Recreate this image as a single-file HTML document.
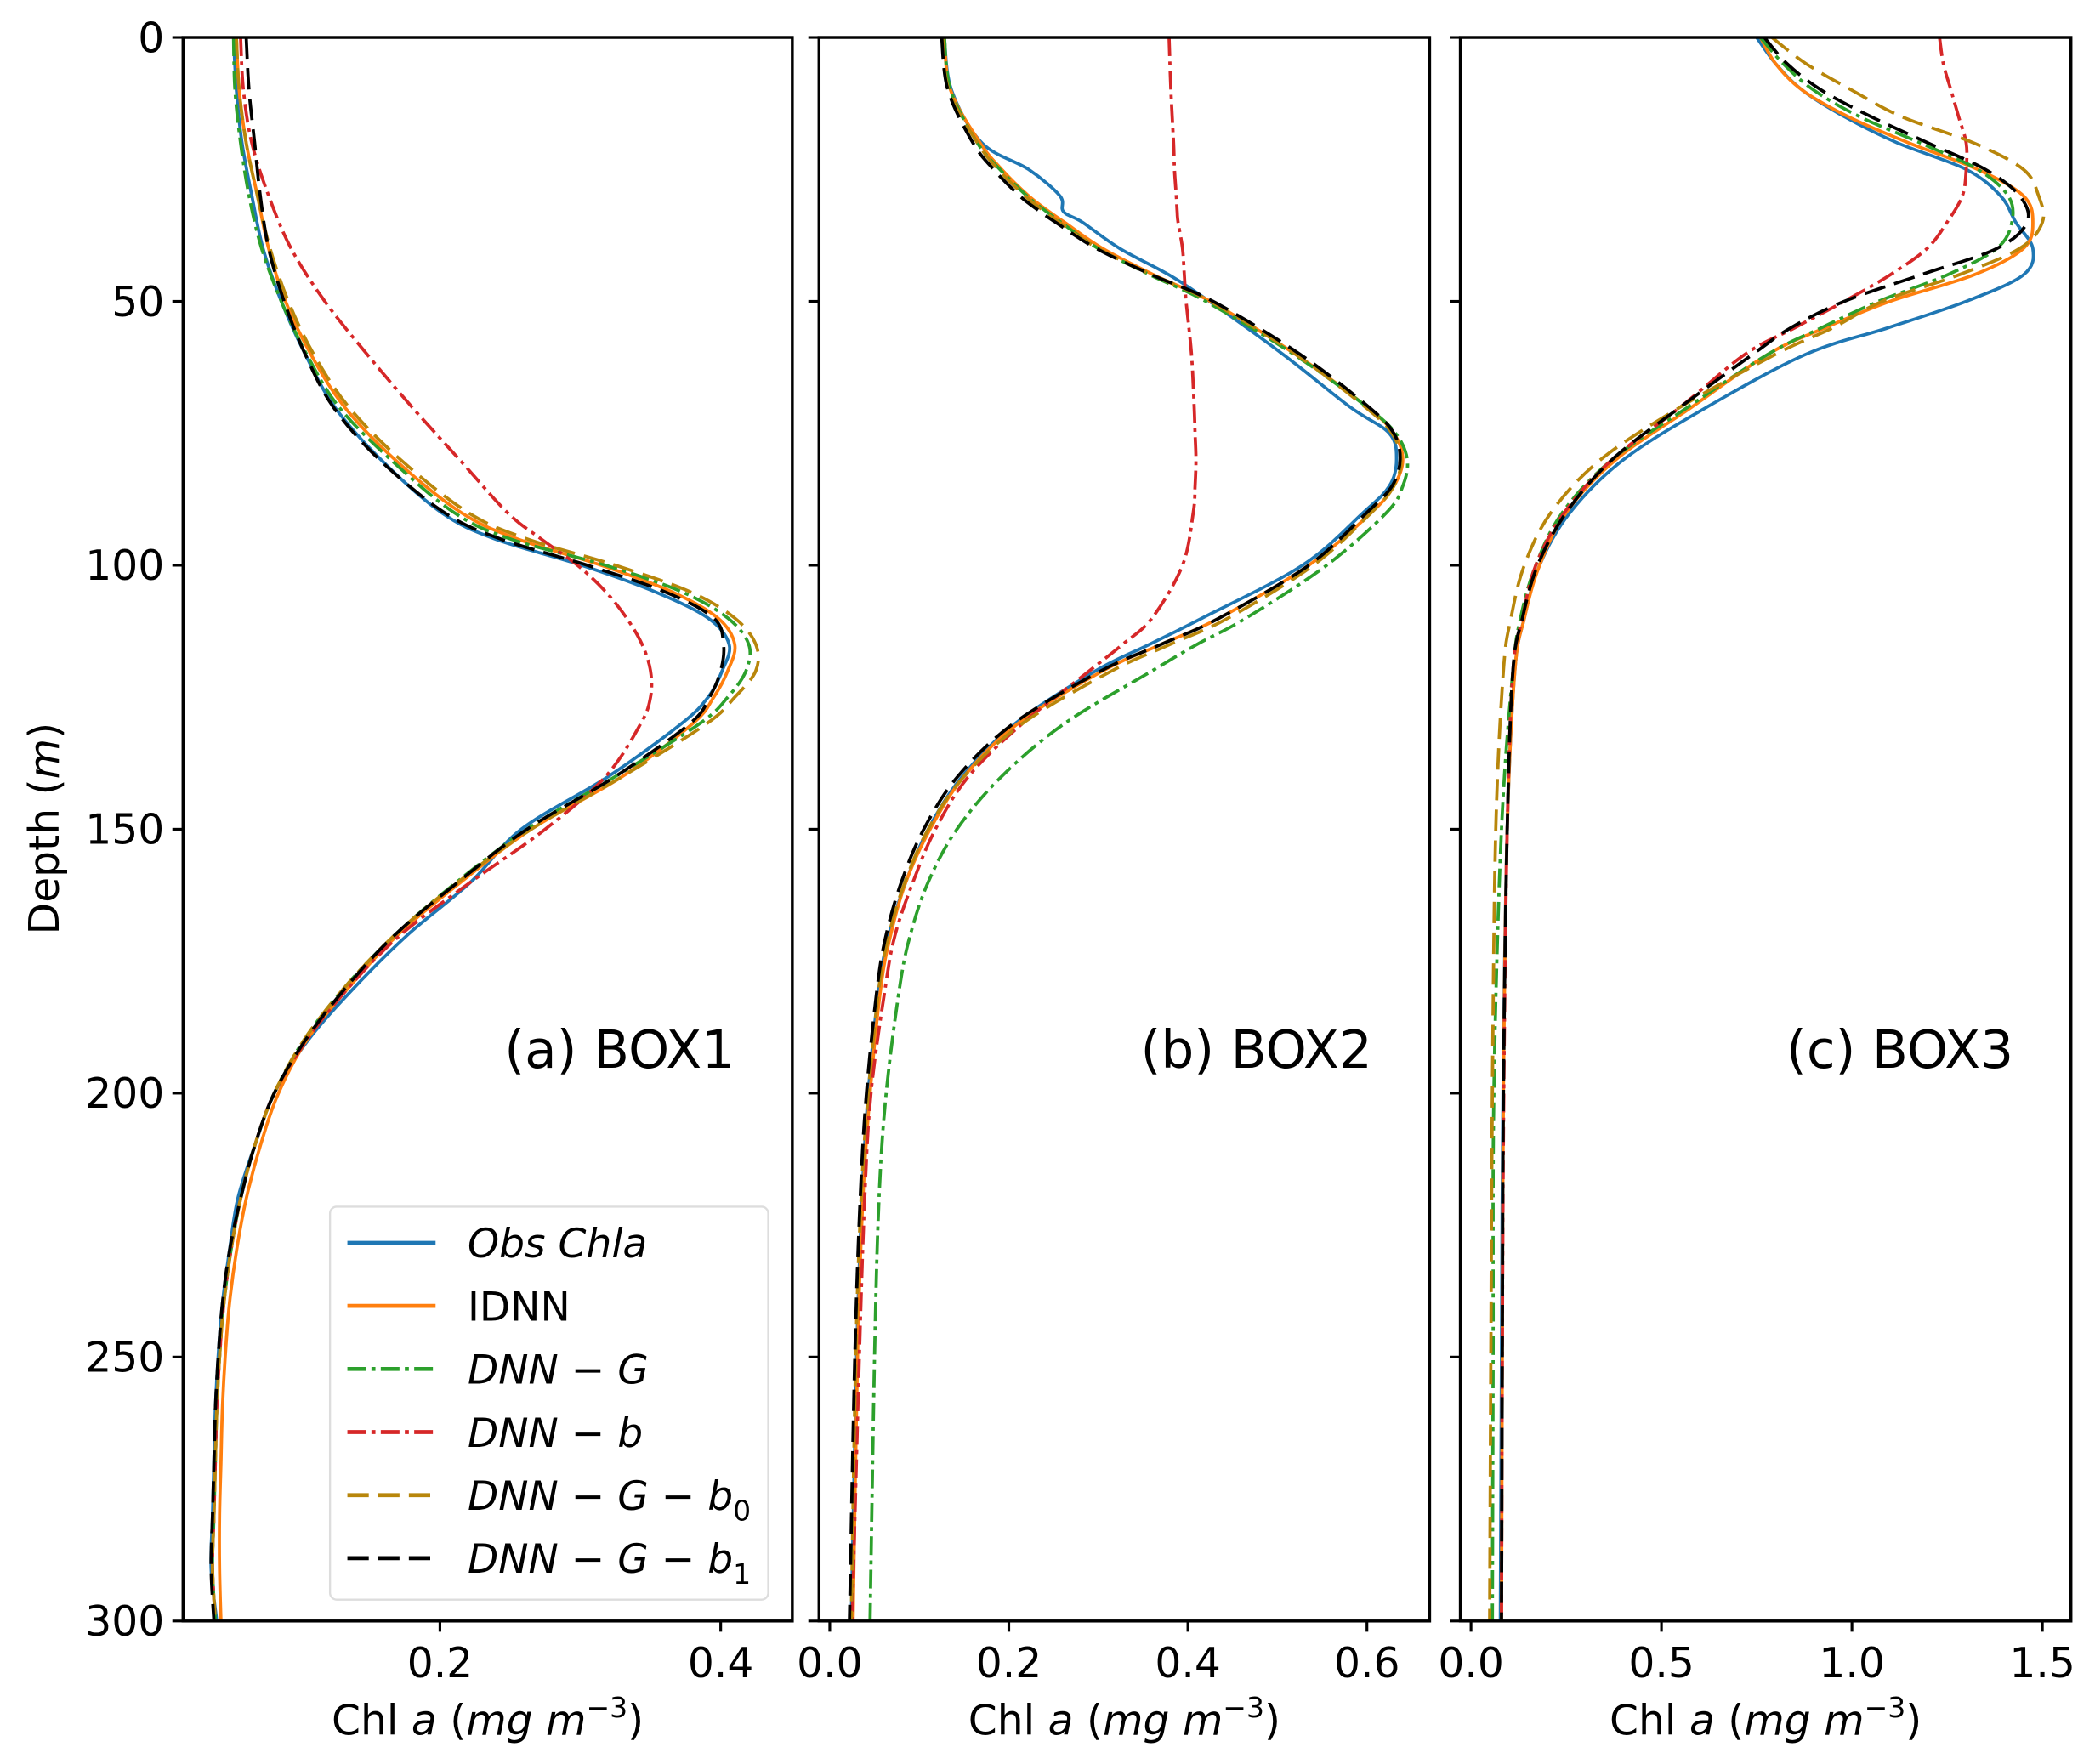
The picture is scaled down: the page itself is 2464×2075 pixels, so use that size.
<!DOCTYPE html>
<html><head><meta charset="utf-8">
<style>
html,body{margin:0;padding:0;background:#fff;}
svg{display:block;}
text{font-family:"DejaVu Sans","Liberation Sans",sans-serif;fill:#000;}
</style></head>
<body>
<svg id="chart" xmlns="http://www.w3.org/2000/svg" width="2464" height="2075" viewBox="0 0 1568 1320" preserveAspectRatio="none">
<rect x="0" y="0" width="1568" height="1320" fill="#fff"/>
</svg>
<script>
// ---------- data ----------
const depths1 = [0,10,20,30,40,50,60,70,80,90,95,100,105,110,115,120,125,130,140,150,160,170,180,190,200,210,220,230,240,250,260,270,280,290,300];
const obs1    = [.053,.055,.059,.066,.074,.087,.104,.125,.158,.201,.239,.301,.353,.391,.406,.401,.391,.372,.320,.258,.222,.177,.139,.106,.082,.068,.056,.050,.045,.042,.040,.039,.038,.037,.041];
const idnn1   = [.055,.057,.062,.070,.078,.090,.108,.132,.168,.215,.255,.315,.365,.398,.410,.405,.395,.380,.330,.265,.215,.170,.135,.105,.085,.072,.062,.055,.050,.047,.045,.044,.043,.043,.044];
const dnnG1   = [.053,.054,.058,.064,.073,.087,.105,.128,.165,.210,.250,.318,.372,.405,.420,.418,.405,.385,.325,.262,.212,.168,.132,.103,.082,.068,.058,.051,.046,.043,.041,.040,.039,.038,.040];
const dnnB1   = [.058,.060,.066,.078,.094,.118,.148,.180,.214,.248,.272,.298,.318,.333,.344,.350,.350,.343,.318,.275,.222,.172,.135,.105,.082,.068,.058,.051,.046,.043,.041,.040,.039,.038,.040];
const dnnGb0_1= [.055,.057,.062,.070,.079,.092,.110,.135,.172,.220,.262,.325,.378,.410,.425,.425,.410,.390,.330,.265,.213,.168,.132,.103,.082,.068,.058,.051,.046,.043,.041,.040,.039,.038,.040];
const dnnGb1_1= [.062,.064,.068,.072,.078,.089,.104,.124,.157,.203,.243,.305,.360,.395,.402,.400,.392,.378,.325,.262,.213,.168,.133,.104,.082,.068,.058,.050,.045,.042,.040,.039,.038,.037,.039];

const depths2 = [0,10,20,25,30,33,35,40,45,50,60,70,75,80,85,90,100,110,115,120,130,140,150,160,170,180,200,220,250,300];
const obs2    = [.128,.136,.170,.222,.257,.261,.282,.324,.379,.424,.506,.581,.625,.633,.625,.596,.528,.416,.357,.297,.207,.148,.110,.085,.066,.055,.043,.036,.030,.024];
const idnn2   = [.128,.135,.168,.192,.222,.245,.262,.305,.362,.425,.520,.600,.630,.640,.630,.605,.535,.435,.370,.305,.210,.150,.112,.085,.068,.057,.045,.037,.031,.026];
const dnnG2   = [.128,.135,.165,.190,.220,.242,.258,.300,.358,.420,.518,.600,.632,.645,.640,.622,.555,.465,.410,.360,.262,.192,.142,.110,.090,.078,.063,.055,.050,.045];
const dnnB2   = [.379,.381,.384,.385,.387,.388,.389,.394,.396,.398,.404,.407,.408,.409,.408,.406,.394,.360,.327,.290,.215,.155,.118,.093,.073,.062,.046,.039,.033,.025];
const dnnGb0_2= [.126,.133,.165,.188,.218,.240,.256,.300,.360,.425,.520,.598,.628,.638,.630,.605,.540,.445,.380,.315,.215,.150,.110,.084,.066,.055,.043,.035,.029,.024];
const dnnGb1_2= [.125,.132,.160,.183,.212,.235,.252,.298,.360,.428,.525,.602,.630,.637,.628,.600,.535,.435,.370,.303,.205,.143,.105,.080,.063,.053,.041,.034,.028,.022];

const depths3 = [0,5,10,15,20,25,30,35,40,45,50,55,60,70,80,90,100,110,120,150,200,250,300];
const obs3    = [.75,.80,.87,.98,1.12,1.30,1.39,1.43,1.475,1.45,1.30,1.095,.88,.62,.40,.26,.18,.14,.115,.095,.084,.080,.077];
const idnn3   = [.76,.80,.87,.99,1.15,1.33,1.45,1.475,1.45,1.32,1.10,.93,.78,.58,.38,.25,.18,.14,.115,.095,.085,.082,.080];
const dnnG3   = [.76,.82,.90,1.02,1.18,1.33,1.41,1.42,1.38,1.25,1.07,.92,.78,.57,.37,.24,.17,.13,.11,.08,.06,.058,.056];
const dnnB3   = [1.23,1.24,1.26,1.28,1.30,1.30,1.29,1.25,1.197,1.10,.98,.85,.72,.55,.37,.245,.17,.135,.11,.095,.086,.082,.080];
const dnnGb0_3= [.79,.88,1.00,1.13,1.32,1.45,1.49,1.50,1.44,1.28,1.08,.95,.80,.55,.34,.21,.14,.105,.085,.065,.056,.052,.049];
const dnnGb1_3= [.77,.83,.92,1.05,1.20,1.35,1.44,1.46,1.38,1.18,.98,.84,.74,.55,.37,.25,.175,.135,.11,.095,.085,.082,.080];

const yTicks = [0,50,100,150,200,250,300];
const xTicks1 = [0.2,0.4];
const xTicks2 = [0.0,0.2,0.4,0.6];
const xTicks3 = [0.0,0.5,1.0,1.5];
const tickLabels1 = ["0.2","0.4"];
const tickLabels2 = ["0.0","0.2","0.4","0.6"];
const tickLabels3 = ["0.0","0.5","1.0","1.5"];
const panelTitles = ["(a) BOX1","(b) BOX2","(c) BOX3"];

// ---------- rendering ----------
const NS = "http://www.w3.org/2000/svg";
const svg = document.getElementById('chart');
function mk(tag, attrs, parent){const e=document.createElementNS(NS,tag);for(const k in attrs)e.setAttribute(k,attrs[k]);(parent||svg).appendChild(e);return e;}

const TOP=28, BOT=1213;
const yScale = d => TOP + (BOT-TOP)*d/300;

const styles = [
  {name:'obs-chla', color:'#1f77b4', dash:'none'},
  {name:'idnn', color:'#ff7f0e', dash:'none'},
  {name:'dnn-g', color:'#2ca02c', dash:'14,4,3,4'},
  {name:'dnn-b', color:'#d62728', dash:'14,4,3,4'},
  {name:'dnn-g-b0', color:'#b8860b', dash:'16,7'},
  {name:'dnn-g-b1', color:'#000000', dash:'16,7'}
];

const panels = [
  {left:137,right:593,vmin:0.017,vmax:0.451,depths:depths1,series:[obs1,idnn1,dnnG1,dnnB1,dnnGb0_1,dnnGb1_1],ticks:xTicks1,labels:tickLabels1},
  {left:613,right:1070,vmin:-0.012,vmax:0.670,depths:depths2,series:[obs2,idnn2,dnnG2,dnnB2,dnnGb0_2,dnnGb1_2],ticks:xTicks2,labels:tickLabels2},
  {left:1093,right:1550,vmin:-0.028,vmax:1.575,depths:depths3,series:[obs3,idnn3,dnnG3,dnnB3,dnnGb0_3,dnnGb1_3],ticks:xTicks3,labels:tickLabels3}
];

function smoothPath(pts){
  let d='M'+pts[0][0].toFixed(2)+','+pts[0][1].toFixed(2);
  for(let i=0;i<pts.length-1;i++){
    const p0=pts[Math.max(0,i-1)],p1=pts[i],p2=pts[i+1],p3=pts[Math.min(pts.length-1,i+2)];
    const c1=[p1[0]+(p2[0]-p0[0])/6,p1[1]+(p2[1]-p0[1])/6];
    const c2=[p2[0]-(p3[0]-p1[0])/6,p2[1]-(p3[1]-p1[1])/6];
    d+=' C'+c1[0].toFixed(2)+','+c1[1].toFixed(2)+' '+c2[0].toFixed(2)+','+c2[1].toFixed(2)+' '+p2[0].toFixed(2)+','+p2[1].toFixed(2);
  }
  return d;
}

panels.forEach((p,pi)=>{
  const g = mk('g',{});
  
  
  const xScale = v => p.left + (p.right-p.left)*(v-p.vmin)/(p.vmax-p.vmin);
  const cp = mk('clipPath',{id:'clip'+pi},g);
  mk('rect',{x:p.left,y:TOP,width:p.right-p.left,height:BOT-TOP},cp);
  const lines = mk('g',{'clip-path':'url(#clip'+pi+')'},g);
  p.series.forEach((vals,si)=>{
    const st=styles[si];
    const pts = vals.map((v,i)=>[xScale(v), yScale(p.depths[i])]);
    const path = mk('path',{d:smoothPath(pts),fill:'none',stroke:st.color,'stroke-width':2.4,'stroke-dasharray':st.dash,'stroke-linejoin':'round'},lines);
    
    
  });
  const fr = mk('rect',{x:p.left,y:TOP,width:p.right-p.left,height:BOT-TOP,fill:'none',stroke:'#000','stroke-width':2.2},g);
  
  
  yTicks.forEach(t=>{
    mk('line',{x1:p.left-8,x2:p.left,y1:yScale(t),y2:yScale(t),stroke:'#000','stroke-width':2},g);
    if(pi===0){
      const tx = mk('text',{x:p.left-14,y:yScale(t)+11,'font-size':31,'text-anchor':'end'},g);
      tx.textContent=String(t);
      
      
    }
  });
  p.ticks.forEach((t,i)=>{
    const x=xScale(t);
    mk('line',{x1:x,x2:x,y1:BOT,y2:BOT+8,stroke:'#000','stroke-width':2},g);
    const tx = mk('text',{x:x,y:BOT+42,'font-size':31,'text-anchor':'middle'},g);
    tx.textContent=p.labels[i];
    
    
  });
  const cx=(p.left+p.right)/2;
  const xl = mk('text',{x:cx,y:1298,'font-size':31,'text-anchor':'middle'},g);
  xl.innerHTML='Chl <tspan font-style="italic">a</tspan> (<tspan font-style="italic">mg m</tspan><tspan font-size="21" dy="-13">−3</tspan><tspan dy="13">)</tspan>';
  
  
  const pt = mk('text',{x:p.right-43,y:799,'font-size':39,'text-anchor':'end'},g);
  pt.textContent=panelTitles[pi];
  
  
});

const yt = mk('text',{x:0,y:0,'font-size':31,'text-anchor':'middle',transform:'translate(44,620) rotate(-90)'});
yt.innerHTML='Depth (<tspan font-style="italic">m</tspan>)';



const lg = mk('g',{});


mk('rect',{x:247,y:903,width:328,height:294,rx:5,fill:'#fff','fill-opacity':0.85,stroke:'#ddd','stroke-width':1.5},lg);
const legLabels = [
  '<tspan font-style="italic">Obs Chla</tspan>',
  'IDNN',
  '<tspan font-style="italic">DNN − G</tspan>',
  '<tspan font-style="italic">DNN − b</tspan>',
  '<tspan font-style="italic">DNN − G − b</tspan><tspan font-size="21" dy="8">0</tspan>',
  '<tspan font-style="italic">DNN − G − b</tspan><tspan font-size="21" dy="8">1</tspan>'
];
styles.forEach((st,i)=>{
  const y=930+i*47.2;
  const e = mk('g',{},lg);
  
  
  mk('line',{x1:260,x2:326,y1:y,y2:y,stroke:st.color,'stroke-width':3,'stroke-dasharray':st.dash},e);
  const t = mk('text',{x:350,y:y+11,'font-size':30},e);
  t.innerHTML=legLabels[i];
});
</script>
</body></html>
